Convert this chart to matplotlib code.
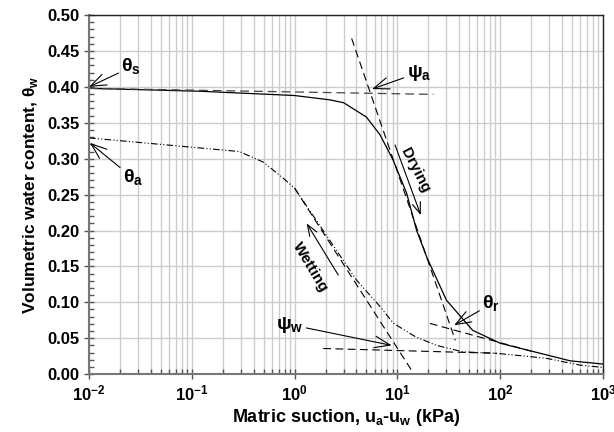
import numpy as np
import matplotlib
matplotlib.use('Agg')
import matplotlib.pyplot as plt
from matplotlib.ticker import LogLocator, MultipleLocator, FormatStrFormatter, NullFormatter

plt.rcParams['font.family'] = ['Liberation Sans', 'DejaVu Sans']
plt.rcParams['font.weight'] = 'bold'
plt.rcParams['axes.unicode_minus'] = False

# drying curve (solid)
dryingSuction = [0.01, 0.12, 1.0, 2.2, 3.0, 5.0, 6.8, 9.1, 12.3, 15.4, 19.3, 30, 54, 100, 245, 480, 1000]
dryingTheta = [0.398, 0.394, 0.388, 0.382, 0.378, 0.358, 0.333, 0.298, 0.252, 0.200, 0.163, 0.103, 0.061, 0.043, 0.029, 0.0185, 0.014]

# wetting curve (dash-dot-dot)
wettingSuction = [0.01, 0.12, 0.29, 0.5, 0.78, 1.0, 2.0, 4.0, 6.8, 9.1, 15, 24, 43.6, 92, 282, 600, 1000]
wettingTheta = [0.329, 0.315, 0.310, 0.295, 0.2725, 0.259, 0.195, 0.131, 0.094, 0.071, 0.052, 0.040, 0.031, 0.029, 0.022, 0.0125, 0.0093]

# construction lines (dashed)
dryTopX, dryTopY = [0.01, 22.4], [0.398, 0.3896]
dryStepX, dryStepY = [3.59, 36.6], [0.4675, 0.047]
dryResX, dryResY = [20.7, 200], [0.0706, 0.032]
wetStepX, wetStepY = [1.0, 13.7], [0.259, 0.0056]
wetResX, wetResY = [1.9, 92], [0.0357, 0.029]

# annotations: label, arrow tip, text position
pointLabels = [
    ('θ$_\\mathdefault{s}$', (0.01, 0.400), (0.0257, 0.4276)),
    ('θ$_\\mathdefault{a}$', (0.0102, 0.322), (0.0268, 0.273)),
    ('ψ$_\\mathdefault{a}$', (5.66, 0.397), (16.2, 0.420)),
    ('θ$_\\mathdefault{r}$', (35.6, 0.068), (81.5, 0.0975)),
    ('ψ$_\\mathdefault{w}$', (8.8, 0.040), (0.90, 0.069)),
]
pathLabels = [
    ('Drying', (9.5, 0.319), (16.9, 0.2214), (14.8, 0.284), -63),
    ('Wetting', (2.66, 0.138), (1.31, 0.210), (1.41, 0.149), -59),
]

fig = plt.figure(figsize=(6.14, 4.32), dpi=100)
ax = fig.add_axes([0.145, 0.134, 0.837, 0.831])

ax.plot(dryingSuction, dryingTheta, color='k', lw=0.9)
ax.plot(wettingSuction, wettingTheta, color='k', lw=0.8, dashes=(6, 2, 1, 2, 1, 2))
ax.plot(dryTopX, dryTopY, color='#444444', lw=0.9, dashes=(7, 4))
for xs, ys in [(dryStepX, dryStepY), (dryResX, dryResY), (wetStepX, wetStepY), (wetResX, wetResY)]:
    ax.plot(xs, ys, color='k', lw=0.8, dashes=(7, 4))

arrow = dict(arrowstyle='->,head_length=0.8,head_width=0.3', color='k', lw=0.8, shrinkA=0, shrinkB=0)
for txt, tip, pos in pointLabels:
    ax.annotate(txt, xy=tip, xytext=pos, fontsize=14, fontweight='bold',
                ha='center', va='center', arrowprops=arrow)
for txt, start, end, pos, rot in pathLabels:
    ax.annotate('', xy=end, xytext=start, arrowprops=arrow)
    ax.text(pos[0], pos[1], txt, rotation=rot, fontsize=11, fontweight='bold',
            ha='center', va='center', rotation_mode='anchor')

ax.set_xscale('log')
ax.set_xlim(0.01, 1000)
ax.set_ylim(0, 0.5)
ax.xaxis.set_major_locator(LogLocator(base=10, numticks=10))
ax.xaxis.set_minor_locator(LogLocator(base=10, subs=np.arange(2, 10), numticks=10))
ax.xaxis.set_minor_formatter(NullFormatter())
ax.yaxis.set_major_locator(MultipleLocator(0.05))
ax.yaxis.set_minor_locator(MultipleLocator(0.01))
ax.yaxis.set_major_formatter(FormatStrFormatter('%.2f'))

ax.grid(True, which='major', color='#cccccc', lw=1.0)
ax.grid(True, which='minor', axis='x', color='#cccccc', lw=1.0)
ax.set_axisbelow(True)

ax.tick_params(which='major', direction='inout', length=7, width=1, color='#555555', labelsize=12)
ax.tick_params(which='minor', direction='in', length=3.5, width=1, color='#555555')
ax.tick_params(top=False, right=False, which='both')
for lbl in ax.get_xticklabels() + ax.get_yticklabels():
    lbl.set_fontweight('bold')

for side in ['left', 'bottom']:
    ax.spines[side].set_color('#777777')
    ax.spines[side].set_linewidth(1.5)
for side in ['top', 'right']:
    ax.spines[side].set_color('#222222')
    ax.spines[side].set_linewidth(1.0)

ax.set_xlabel('Matric suction, u$_\\mathdefault{a}$-u$_\\mathdefault{w}$ (kPa)', fontsize=13, fontweight='bold', labelpad=2)
ax.set_ylabel('Volumetric water content, θ$_\\mathdefault{w}$', fontsize=12.5, fontweight='bold', labelpad=5)

fig.savefig('out.png', dpi=100)
